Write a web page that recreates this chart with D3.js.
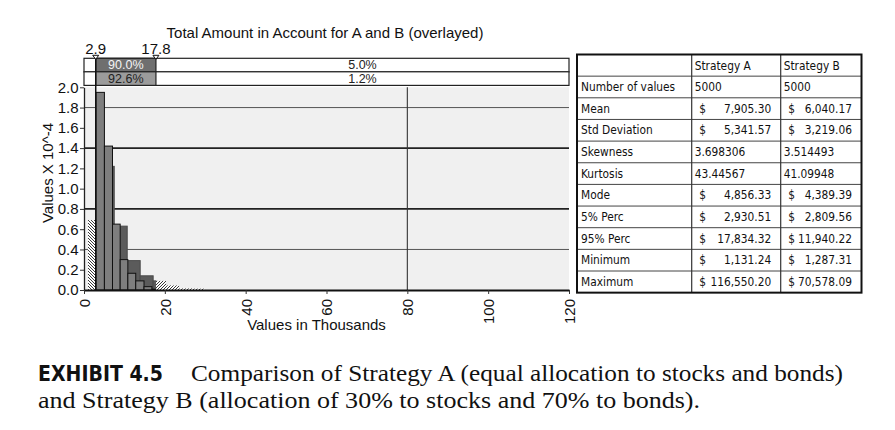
<!DOCTYPE html>
<html><head><meta charset="utf-8">
<script src="https://cdn.jsdelivr.net/npm/d3@7"></script>
<style>
html,body{margin:0;padding:0;background:#fff;}
svg{display:block;}
</style></head>
<body><svg id="c" width="895" height="430" font-family="Liberation Sans, Arial, sans-serif"></svg>
<script>
// ---------------- data ----------------
const chartTitle = "Total Amount in Account for A and B (overlayed)";
const xTicks = [0, 20, 40, 60, 80, 100, 120];
const yTicks = [0.0, 0.2, 0.4, 0.6, 0.8, 1.0, 1.2, 1.4, 1.6, 1.8, 2.0];
const gridY = [0.4, 0.8, 1.4, 1.8];
const gridX = [80];
const delimiters = [2.9, 17.8];
// Strategy A histogram (thousands, values x 10^-4)
const edgesA = [1.06, 4.27, 7.48, 10.69, 13.90, 17.11, 20.32, 23.53, 26.74, 29.95];
const heightsA = [0.60, 1.22, 0.63, 0.29, 0.14, 0.09, 0.045, 0.015, 0.013];
// Strategy B histogram
const edgesB = [0.99, 2.97, 5.05, 7.05, 8.95, 10.85, 12.80, 14.85, 16.80, 18.80];
const heightsB = [0.69, 1.95, 1.42, 0.65, 0.30, 0.165, 0.09, 0.033, 0.008];
// delimiter band percentages (middle, right)
const bandA = ["90.0%", "5.0%"];
const bandB = ["92.6%", "1.2%"];
// statistics table
const statHeaders = ["", "Strategy A", "Strategy B"];
const statLabels = ["Number of values","Mean","Std Deviation","Skewness","Kurtosis","Mode","5% Perc","95% Perc","Minimum","Maximum"];
const statsA = [5000, 7905.30, 5341.57, 3.698306, 43.44567, 4856.33, 2930.51, 17834.32, 1131.24, 116550.20];
const statsB = [5000, 6040.17, 3219.06, 3.514493, 41.09948, 4389.39, 2809.56, 11940.22, 1287.31, 70578.09];
const statIsMoney = [false, true, true, false, false, true, true, true, true, true];
const captionLabel = "EXHIBIT 4.5";
const captionLine1 = "Comparison of Strategy A (equal allocation to stocks and bonds)";
const captionLine2 = "and Strategy B (allocation of 30% to stocks and 70% to bonds).";

// ---------------- drawing ----------------
const svg = d3.select("#c");
const x = d3.scaleLinear().domain([0, 120]).range([84, 569]);
const y = d3.scaleLinear().domain([0, 2.0]).range([290, 87.3]);

const defs = svg.append("defs");
function hatch(id, d) {
  const p = defs.append("pattern").attr("id", id).attr("patternUnits", "userSpaceOnUse")
    .attr("width", 3).attr("height", 3);
  p.append("rect").attr("width", 3).attr("height", 3).attr("fill", "#fff");
  p.append("path").attr("d", d).attr("stroke", "#222").attr("stroke-width", 0.9);
}
hatch("hatchA", "M-1,1 L1,-1 M0,3 L3,0 M2,4 L4,2");
hatch("hatchB", "M-1,2 L1,4 M0,0 L3,3 M2,-1 L4,1");

// title
svg.append("text").attr("x", 325).attr("y", 37.5).attr("text-anchor", "middle")
  .attr("font-size", 15).attr("fill", "#111").text(chartTitle);

// plot background
svg.append("rect").attr("x", x(0)).attr("y", y(2.0)).attr("width", x(120) - x(0))
  .attr("height", y(0) - y(2.0)).attr("fill", "#f0f0f0");

// gridlines
svg.selectAll(".gy").data(gridY).join("line")
  .attr("x1", x(0)).attr("x2", x(120)).attr("y1", d => y(d)).attr("y2", d => y(d))
  .attr("stroke", d => (d === 0.8 || d === 1.4) ? "#222" : "#555")
  .attr("stroke-width", d => (d === 0.8 || d === 1.4) ? 1.6 : 1);
svg.selectAll(".gx").data(gridX).join("line")
  .attr("x1", d => x(d)).attr("x2", d => x(d)).attr("y1", y(2.0)).attr("y2", y(0))
  .attr("stroke", "#333").attr("stroke-width", 1.1);

// histogram segments
const lo = delimiters[0], hi = delimiters[1];
function segments(edges, heights) {
  const out = [];
  heights.forEach((h, i) => {
    const a = edges[i], b = edges[i + 1];
    if (a < lo) out.push({a: a, b: Math.min(b, lo), h: h, hatched: true});
    const sa = Math.max(a, lo), sb = Math.min(b, hi);
    if (sb > sa) out.push({a: sa, b: sb, h: h, hatched: false});
    if (b > hi) out.push({a: Math.max(a, hi), b: b, h: h, hatched: true});
  });
  return out;
}
function drawSeries(edges, heights, fill, stroke, hatchId) {
  const g = svg.append("g");
  g.selectAll("rect").data(segments(edges, heights)).join("rect")
    .attr("x", d => x(d.a)).attr("width", d => x(d.b) - x(d.a))
    .attr("y", d => y(d.h)).attr("height", d => y(0) - y(d.h))
    .attr("fill", d => d.hatched ? `url(#${hatchId})` : fill)
    .attr("stroke", d => d.hatched ? "none" : stroke)
    .attr("stroke-width", 1);
}
drawSeries(edgesA, heightsA, "#5b5b5b", "#4a4a4a", "hatchA");
drawSeries(edgesB, heightsB, "#7e7e7e", "#111", "hatchB");

// axes
const yAxis = svg.append("g").attr("transform", `translate(${x(0)},0)`)
  .call(d3.axisLeft(y).tickValues(yTicks).tickFormat(d3.format(".1f")).tickSize(4).tickSizeOuter(0));
yAxis.attr("font-family", "Liberation Sans, Arial, sans-serif").attr("font-size", 15);
yAxis.selectAll("text").attr("fill", "#111").attr("x", -5.5);
yAxis.select(".domain").attr("stroke", "#222").attr("stroke-width", 1.3);
yAxis.selectAll(".tick line").attr("stroke", "#333");

const xAxis = svg.append("g").attr("transform", `translate(0,${y(0)})`)
  .call(d3.axisBottom(x).tickValues(xTicks).tickFormat(d3.format("d")).tickSize(4).tickSizeOuter(0));
xAxis.attr("font-family", "Liberation Sans, Arial, sans-serif").attr("font-size", 15);
xAxis.select(".domain").attr("stroke", "#111").attr("stroke-width", 2);
xAxis.selectAll(".tick line").attr("stroke", "#333");
xAxis.selectAll("text").attr("fill", "#111")
  .attr("transform", "rotate(-90)").attr("text-anchor", "end")
  .attr("x", -9).attr("y", 0).attr("dy", "0.36em");

// axis titles
svg.append("text").attr("transform", "translate(53,173) rotate(-90)").attr("text-anchor", "middle")
  .attr("font-size", 15).attr("fill", "#111").text("Values X 10^-4");
svg.append("text").attr("x", 316.5).attr("y", 330).attr("text-anchor", "middle")
  .attr("font-size", 15).attr("fill", "#111").text("Values in Thousands");

// delimiter bands
const rowTops = [58.3, 71.8];
const rowH = 13.6;
const shadeFills = ["#6f6f6f", "#9b9b9b"];
const shadeText = ["#f4f4f4", "#222"];
[bandA, bandB].forEach((vals, r) => {
  svg.append("rect").attr("x", x(0)).attr("y", rowTops[r]).attr("width", x(120) - x(0))
    .attr("height", rowH).attr("fill", "#fff").attr("stroke", "#222").attr("stroke-width", 1.2);
  svg.append("rect").attr("x", x(lo)).attr("y", rowTops[r]).attr("width", x(hi) - x(lo))
    .attr("height", rowH).attr("fill", shadeFills[r]).attr("stroke", "#222").attr("stroke-width", 1.2);
  svg.append("text").attr("x", (x(lo) + x(hi)) / 2).attr("y", rowTops[r] + 11)
    .attr("text-anchor", "middle").attr("font-size", 12.5).attr("fill", shadeText[r]).text(vals[0]);
  svg.append("text").attr("x", (x(hi) + x(120)) / 2).attr("y", rowTops[r] + 11)
    .attr("text-anchor", "middle").attr("font-size", 12.5).attr("fill", "#222").text(vals[1]);
});
// delimiter line at lower bound
svg.append("line").attr("x1", x(lo)).attr("x2", x(lo)).attr("y1", 58).attr("y2", y(0))
  .attr("stroke", "#111").attr("stroke-width", 1.5);
// markers
delimiters.forEach(v => {
  svg.append("path").attr("d", `M${x(v) - 3},55.3 L${x(v) + 3},55.3 L${x(v)},59.3 Z`)
    .attr("fill", "#fff").attr("stroke", "#111").attr("stroke-width", 1);
  svg.append("text").attr("x", x(v)).attr("y", 53.5).attr("text-anchor", "middle")
    .attr("font-size", 15).attr("fill", "#111").text(d3.format(".1f")(v));
});

// ---------------- table ----------------
const colX = [577, 691.7, 780.7, 861.5];
const tTop = 54.5, tRowH = 21.65, nRows = statLabels.length + 1;
const tBottom = tTop + tRowH * nRows;
const tg = svg.append("g").attr("font-family", "DejaVu Sans Condensed, DejaVu Sans, sans-serif");
for (let i = 1; i < nRows; i++) {
  tg.append("line").attr("x1", colX[0]).attr("x2", colX[3])
    .attr("y1", tTop + i * tRowH).attr("y2", tTop + i * tRowH)
    .attr("stroke", "#444").attr("stroke-width", 1);
}
[colX[1], colX[2]].forEach(cx => tg.append("line").attr("x1", cx).attr("x2", cx)
  .attr("y1", tTop).attr("y2", tBottom).attr("stroke", "#333").attr("stroke-width", 1.2));
tg.append("rect").attr("x", colX[0]).attr("y", tTop).attr("width", colX[3] - colX[0])
  .attr("height", tBottom - tTop).attr("fill", "none").attr("stroke", "#111").attr("stroke-width", 2);

const fs = 11.8;
statHeaders.forEach((h, j) => {
  if (h) tg.append("text").attr("x", colX[j] + 3).attr("y", tTop + 15).attr("font-size", fs)
    .attr("fill", "#111").text(h);
});
const money = d3.format(",.2f");
statLabels.forEach((lab, i) => {
  const by = tTop + (i + 1) * tRowH + 15;
  tg.append("text").attr("x", colX[0] + 4).attr("y", by).attr("font-size", fs).attr("fill", "#111").text(lab);
  [statsA, statsB].forEach((arr, k) => {
    const v = arr[i];
    const left = colX[k + 1], right = colX[k + 2];
    if (statIsMoney[i]) {
      tg.append("text").attr("x", left + 7.5).attr("y", by).attr("font-size", fs).attr("fill", "#111").text("$");
      tg.append("text").attr("x", right - 9.5).attr("y", by).attr("text-anchor", "end")
        .attr("font-size", fs).attr("fill", "#111").text(money(v));
    } else {
      tg.append("text").attr("x", left + 3).attr("y", by).attr("font-size", fs).attr("fill", "#111").text(String(v));
    }
  });
});

// ---------------- caption ----------------
svg.append("text").attr("x", 38).attr("y", 381)
  .attr("font-family", "DejaVu Sans Condensed, Liberation Sans Narrow, Liberation Sans, sans-serif")
  .attr("font-weight", "bold").attr("font-size", 22).attr("fill", "#111")
  .attr("textLength", 125).attr("lengthAdjust", "spacingAndGlyphs")
  .text(captionLabel);
svg.append("text").attr("x", 191).attr("y", 381)
  .attr("font-family", "Liberation Serif, Times New Roman, serif").attr("font-size", 23)
  .attr("textLength", 652).attr("lengthAdjust", "spacingAndGlyphs")
  .attr("fill", "#111").text(captionLine1);
svg.append("text").attr("x", 38).attr("y", 408)
  .attr("font-family", "Liberation Serif, Times New Roman, serif").attr("font-size", 23)
  .attr("textLength", 662).attr("lengthAdjust", "spacingAndGlyphs")
  .attr("fill", "#111").text(captionLine2);
</script></body></html>
